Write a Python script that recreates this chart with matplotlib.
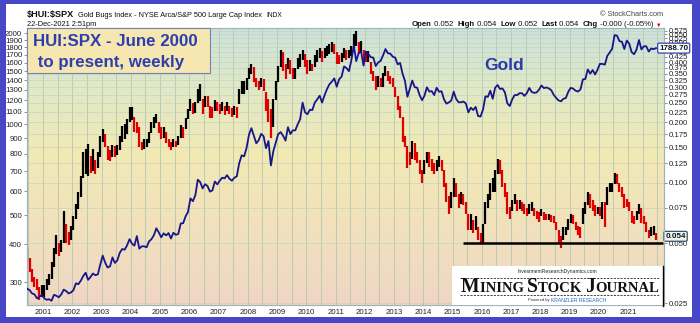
import numpy as np
import matplotlib
matplotlib.use("Agg")
import matplotlib.pyplot as plt
from matplotlib.colors import LinearSegmentedColormap
from matplotlib.patches import Rectangle
from matplotlib.lines import Line2D
from matplotlib.text import Annotation
from matplotlib.ticker import NullLocator

plt.rcParams['font.family'] = ['Liberation Sans', 'DejaVu Sans']

# ---------------- data: monthly, June 2000 .. December 2021 ----------------
start_year, start_month = 2000, 6

ratio_lo = [
    .040, .036, .032, .030, .029, .026, .027,
    .027, .029, .031, .033, .038, .044, .043, .045, .050, .050, .049, .052,
    .058, .066, .074, .085, .105, .110, .108, .112, .115, .110, .118, .135,
    .160, .150, .130, .128, .135, .135, .138, .145, .160, .165, .175, .200,
    .205, .180, .178, .150, .145, .148, .150, .158, .178, .188, .198, .178,
    .165, .168, .158, .150, .145, .150, .150, .155, .168, .168, .185, .208,
    .228, .220, .222, .250, .255, .220, .238, .238, .210, .210, .228, .228,
    .220, .228, .218, .228, .220, .214, .218, .210, .248, .278, .278, .290,
    .330, .350, .318, .300, .290, .300, .288, .228, .200, .168, .190, .258,
    .318, .380, .360, .330, .368, .350, .330, .330, .368, .380, .410, .380,
    .350, .360, .360, .380, .400, .420, .400, .420, .430, .440, .450, .440,
    .390, .390, .400, .420, .410, .420, .430, .470, .480, .440, .450, .400,
    .400, .400, .350, .320, .290, .300, .300, .300, .340, .320, .310, .300,
    .268, .230, .210, .160, .150, .118, .122, .132, .130, .125, .110, .100,
    .110, .125, .120, .115, .110, .115, .120, .115, .095, .080, .070, .075,
    .085, .085, .075, .078, .077, .070, .058, .058, .056, .058, .052, .050,
    .050, .062, .075, .082, .090, .090, .110, .110, .095, .085, .070, .066,
    .072, .078, .072, .074, .072, .070, .068, .070, .072, .068, .066, .064,
    .068, .065, .065, .065, .064, .063, .058, .050, .047, .052, .055, .058,
    .063, .062, .058, .055, .053, .062, .070, .077, .075, .072, .068, .070,
    .068, .066, .060, .077, .090, .090, .098, .098, .090, .085, .075, .076,
    .072, .063, .062, .065, .070, .063, .062, .057, .053, .054, .055, .052,
]
ratio_hi = [
    .047, .042, .037, .034, .033, .030, .031,
    .031, .033, .035, .040, .047, .055, .050, .052, .072, .062, .057, .061,
    .068, .078, .090, .108, .142, .148, .156, .136, .148, .130, .142, .172,
    .186, .175, .152, .145, .155, .152, .155, .172, .192, .197, .207, .240,
    .240, .212, .202, .190, .160, .165, .165, .180, .200, .212, .220, .200,
    .190, .190, .180, .165, .160, .165, .162, .172, .195, .190, .210, .232,
    .262, .250, .252, .292, .312, .262, .272, .270, .242, .240, .260, .252,
    .246, .252, .242, .252, .242, .236, .242, .240, .292, .322, .322, .332,
    .372, .392, .380, .332, .322, .332, .330, .282, .262, .232, .262, .322,
    .382, .458, .450, .392, .420, .412, .372, .372, .420, .440, .462, .440,
    .410, .412, .392, .432, .460, .472, .452, .472, .482, .492, .502, .492,
    .450, .432, .442, .472, .462, .462, .482, .552, .570, .502, .512, .462,
    .452, .452, .402, .362, .342, .342, .332, .352, .382, .362, .342, .332,
    .302, .272, .242, .212, .172, .152, .142, .162, .158, .142, .130, .116,
    .130, .142, .142, .132, .125, .130, .136, .130, .116, .100, .086, .090,
    .106, .100, .088, .090, .088, .080, .070, .070, .065, .068, .060, .056,
    .062, .080, .088, .100, .105, .116, .132, .130, .116, .100, .090, .076,
    .082, .088, .082, .082, .080, .078, .075, .078, .080, .075, .072, .071,
    .074, .071, .070, .070, .069, .068, .064, .058, .054, .060, .060, .066,
    .070, .069, .064, .061, .060, .075, .080, .090, .088, .082, .077, .076,
    .076, .080, .080, .095, .100, .100, .112, .110, .100, .095, .088, .083,
    .080, .072, .068, .072, .078, .075, .068, .064, .058, .060, .061, .056,
]
gold = [
    285, 282, 275, 273, 265, 268, 272,
    265, 262, 263, 260, 272, 270, 267, 273, 283, 280, 275, 277,
    282, 297, 295, 303, 314, 322, 305, 312, 320, 316, 318, 343,
    367, 348, 335, 338, 362, 347, 354, 375, 386, 384, 397, 416,
    402, 396, 426, 387, 394, 394, 391, 409, 416, 429, 452, 438,
    422, 435, 428, 436, 418, 437, 430, 433, 469, 470, 495, 513,
    568, 556, 582, 655, 643, 613, 633, 624, 598, 604, 646, 632,
    650, 665, 662, 678, 660, 650, 665, 672, 743, 789, 783, 834,
    923, 971, 916, 865, 886, 930, 913, 833, 880, 730, 815, 870,
    928, 942, 916, 883, 978, 928, 955, 955, 1000, 1040, 1180, 1095,
    1080, 1118, 1115, 1180, 1210, 1244, 1180, 1248, 1308, 1357, 1385, 1420,
    1332, 1410, 1439, 1556, 1536, 1500, 1628, 1826, 1620, 1722, 1746, 1565,
    1740, 1710, 1668, 1664, 1560, 1604, 1622, 1692, 1776, 1720, 1714, 1675,
    1664, 1580, 1598, 1472, 1393, 1234, 1313, 1396, 1327, 1323, 1250, 1202,
    1244, 1326, 1284, 1288, 1250, 1322, 1282, 1287, 1210, 1171, 1182, 1199,
    1283, 1213, 1183, 1183, 1190, 1172, 1095, 1135, 1115, 1142, 1065, 1061,
    1118, 1238, 1233, 1292, 1215, 1322, 1350, 1309, 1315, 1276, 1173, 1150,
    1210, 1250, 1249, 1268, 1268, 1242, 1269, 1320, 1280, 1271, 1275, 1303,
    1345, 1318, 1325, 1315, 1298, 1253, 1224, 1200, 1192, 1215, 1222, 1282,
    1321, 1313, 1292, 1284, 1305, 1409, 1413, 1520, 1472, 1513, 1463, 1517,
    1587, 1585, 1577, 1686, 1730, 1781, 1975, 1968, 1886, 1879, 1777, 1895,
    1850, 1734, 1708, 1769, 1903, 1771, 1814, 1814, 1743, 1783, 1775, 1788.7,
]
ratio_last = 0.054
gold_last = 1788.70
support_level = 0.050
support_start = 2015.36

year_ticks = list(range(2001, 2022))
left_ticks = [300, 400, 500, 600, 700, 800, 900, 1000, 1100, 1200, 1300,
              1400, 1500, 1600, 1700, 1800, 1900, 2000]
right_ticks = [0.025, 0.050, 0.075, 0.100, 0.125, 0.150, 0.175, 0.200,
               0.225, 0.250, 0.275, 0.300, 0.325, 0.350, 0.375, 0.400,
               0.425, 0.450, 0.475, 0.500, 0.525, 0.550, 0.575]

# ---------------- figure ----------------
W, H = 700, 323
fig = plt.figure(figsize=(W / 100, H / 100), dpi=100, facecolor='white')


def fx(x):
    return x / W


def fy(y):
    return 1 - y / H


# outer blue frame
frame_col = '#4646c6'
for (x0, y0, x1, y1) in [(0, 0, 700, 3.5), (0, 0, 6, 323), (692, 0, 700, 323),
                         (0, 317, 700, 323)]:
    fig.patches.append(Rectangle((fx(x0), fy(y1)), (x1 - x0) / W, (y1 - y0) / H,
                                 transform=fig.transFigure, facecolor=frame_col,
                                 edgecolor='none', zorder=10))

L, R, T, B = 27, 664, 28, 305
rect = [fx(L), fy(B), (R - L) / W, (B - T) / H]

# gradient background
bg = fig.add_axes(rect, zorder=0)
cmap = LinearSegmentedColormap.from_list('bg', [
    (0.0, '#f0d6c4'), (0.25, '#f1e0bd'), (0.55, '#f2eab4'),
    (0.8, '#dfe8c8'), (1.0, '#cbe3dc')])
bg.imshow(np.linspace(0, 1, 256)[:, None], aspect='auto', cmap=cmap,
          origin='lower', extent=[0, 1, 0, 1])
bg.set_axis_off()

ax = fig.add_axes(rect, zorder=1)
ax.patch.set_visible(False)
ax2 = ax.twinx()
ax2.set_zorder(2)
ax2.patch.set_visible(False)

n = len(gold)
t = np.array([start_year + (start_month - 1 + i + 0.5) / 12 for i in range(n)])
lo = np.array(ratio_lo)
hi = np.array(ratio_hi)
mid = (lo + hi) / 2
up = np.r_[True, mid[1:] >= mid[:-1]]
cols = np.where(up, '#000000', '#e00000')

x_left = 2001 + (L - 43) / 29.25
x_right = 2001 + (R - 43) / 29.25

# ratio bars (right axis)
ax.set_yscale('log')
ax.set_xlim(x_left, x_right)
ax.set_ylim(0.02452, 0.5918)
ax.vlines(t, lo, hi, colors=cols, lw=1.6, zorder=3)
ax.hlines(support_level, support_start, x_right - 0.05, colors='black', lw=1.8, zorder=4)

# grid
for xv in np.arange(2000.5, 2022.1, 0.5):
    ax.axvline(xv, color='#b3c7b2', lw=0.6, zorder=1)
for yv in right_ticks:
    ax.axhline(yv, color='#c9d3bf', lw=0.5, zorder=1)

ax.yaxis.set_ticks_position('right')
ax.set_yticks(right_ticks)
ax.set_yticklabels(['%.3f' % v for v in right_ticks])
ax.yaxis.set_minor_locator(NullLocator())
ax.set_xticks(year_ticks)
ax.set_xticklabels([str(y) for y in year_ticks])
ax.tick_params(axis='both', labelsize=5.6, length=2, width=0.5, color='#666666',
               labelcolor='#222222', pad=1.5)
ax.tick_params(axis='x', length=0, pad=3)

# gold line (left axis)
ax2.set_yscale('log')
ax2.set_ylim(251.7, 2085.7)
ax2.plot(t, gold, color='#16168a', lw=1.3, zorder=3)
ax2.yaxis.set_ticks_position('left')
ax2.yaxis.set_label_position('left')
ax2.set_yticks(left_ticks)
ax2.set_yticklabels([str(v) for v in left_ticks])
ax2.yaxis.set_minor_locator(NullLocator())
ax2.tick_params(axis='y', labelsize=5.6, length=2, width=0.5, color='#666666',
                labelcolor='#222222', pad=1.5)

for a in (ax, ax2, bg):
    for s in a.spines.values():
        s.set_color('#9fb4bf')
        s.set_linewidth(0.8)

# last-value tags
ax2.annotate('%.2f' % gold_last, xy=(1.0, gold_last), xycoords=('axes fraction', 'data'),
             xytext=(-3.5, 0), textcoords='offset points', ha='left', va='center',
             fontsize=5.8, fontweight='bold', color='#111111',
             bbox=dict(boxstyle='round,pad=0.18', fc='white', ec='#3344aa', lw=0.9),
             zorder=6, annotation_clip=False)
ax.annotate('%.3f' % ratio_last, xy=(1.0, ratio_last), xycoords=('axes fraction', 'data'),
            xytext=(1.0, 0), textcoords='offset points', ha='left', va='center',
            fontsize=5.8, fontweight='bold', color='#111111',
            bbox=dict(boxstyle='round,pad=0.18', fc='#eef4f4', ec='#335566', lw=0.9),
            zorder=6, annotation_clip=False)

# "Gold" label
fig.text(fx(504), fy(65), 'Gold', ha='center', va='center', fontsize=12.5,
         fontweight='bold', color='#2a3aa8', zorder=6)

# title box
fig.patches.append(Rectangle((fx(27), fy(73)), (210 - 27) / W, (73 - 28) / H,
                             transform=fig.transFigure, facecolor='#f6e6b0',
                             edgecolor='#7a7fb8', lw=0.8, zorder=5))
fig.text(fx(33), fy(41), 'HUI:SPX - June 2000', ha='left', va='center', fontsize=12.2,
         fontweight='bold', color='#2d3fb0', zorder=6)
fig.text(fx(33), fy(62), ' to present, weekly', ha='left', va='center', fontsize=12.2,
         fontweight='bold', color='#2d3fb0', zorder=6)


def chain(x_px, y_px, pieces, zorder=6):
    """Lay out text pieces one after another on a shared baseline."""
    prev = fig.text(fx(x_px), fy(y_px), pieces[0][0], ha='left', va='baseline',
                    zorder=zorder, **pieces[0][1])
    for s, kw in pieces[1:]:
        prev = fig.add_artist(Annotation(
            s, xy=(1, fy(y_px)), xycoords=(prev, 'figure fraction'),
            ha='left', va='baseline', zorder=zorder, **kw))
    return prev


# header
chain(27, 17, [(r'\$HUI:\$SPX', dict(fontsize=6.6, fontweight='bold', color='#111111')),
               ('  Gold Bugs Index - NYSE Arca/S&P 500 Large Cap Index  ',
                dict(fontsize=5.3, color='#111111')),
               ('INDX', dict(fontsize=4.8, color='#111111'))])
fig.text(fx(27), fy(25.5), '22-Dec-2021 2:51pm', ha='left', va='baseline', fontsize=5.3,
         color='#111111')
fig.text(fx(663), fy(15.5), '\u00a9 StockCharts.com', ha='right', va='baseline',
         fontsize=5.3, color='#444444')
bold = dict(fontsize=5.6, fontweight='bold', color='#111111')
norm = dict(fontsize=5.6, color='#111111')
chain(412, 26.5, [('Open', bold), (' 0.052  ', norm), ('High', bold), (' 0.054  ', norm),
                  ('Low', bold), (' 0.052  ', norm), ('Last', bold), (' 0.054  ', norm),
                  ('Chg', bold), (' -0.000 (-0.05%) ', norm),
                  ('\u25bc', dict(fontsize=4, color='#cc0000'))])

# logo panel
fig.patches.append(Rectangle((fx(452), fy(305)), (663 - 452) / W, (305 - 266) / H,
                             transform=fig.transFigure, facecolor='white',
                             edgecolor='none', zorder=5))
fig.add_artist(Line2D([fx(663), fx(663)], [fy(266), fy(306)], color='black', lw=1.0,
                      transform=fig.transFigure, zorder=6))
fig.text(fx(557), fy(272.5), 'InvestmentResearchDynamics.com', ha='center', va='baseline',
         fontsize=3.6, color='#222222', zorder=6)
for yy in (277.5, 295.0):
    fig.add_artist(Line2D([fx(460), fx(660)], [fy(yy), fy(yy)], color='#222222', lw=0.6,
                          ls=(0, (2.5, 1.5)), transform=fig.transFigure, zorder=6))
big = dict(fontsize=14.2, family='Liberation Serif', fontweight='bold', color='#111111')
small = dict(fontsize=10.6, family='Liberation Serif', fontweight='bold', color='#111111')
chain(461, 292, [('M', big), ('INING ', small), ('S', big), ('TOCK ', small),
                 ('J', big), ('OURNAL', small)])
chain(528, 301.5, [('Powered by ', dict(fontsize=3.0, color='#333333')),
                   ('KRANZLER RESEARCH', dict(fontsize=3.6, color='#2a6acc'))])

fig.savefig('out.png', dpi=100, facecolor='white')
